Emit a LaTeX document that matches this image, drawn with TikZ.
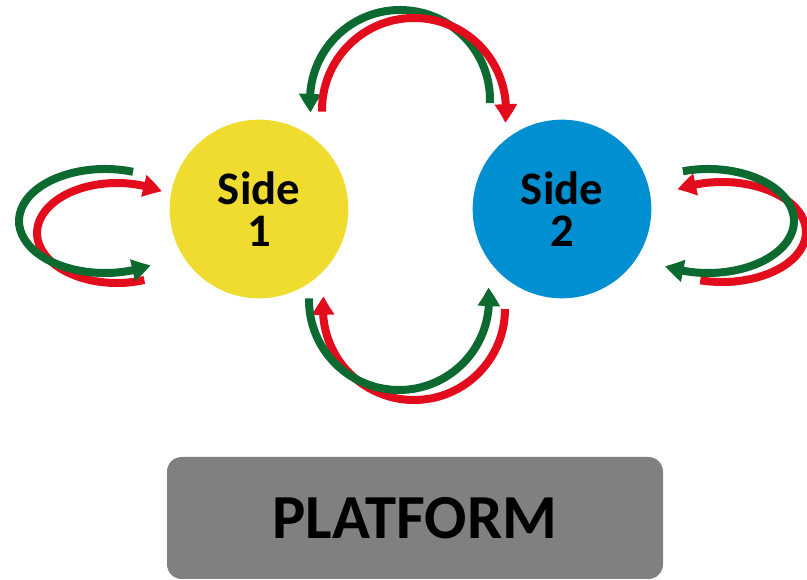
\documentclass[tikz,border=0pt]{standalone}
\usepackage{fontspec}
\setmainfont{Carlito}
\usetikzlibrary{arrows.meta,bending}
\definecolor{arrgreen}{RGB}{12,106,48}
\definecolor{arrred}{RGB}{226,12,28}
\definecolor{sideyellow}{RGB}{240,220,46}
\definecolor{sideblue}{RGB}{0,143,208}
\definecolor{platgray}{RGB}{128,128,128}
\begin{document}
\begin{tikzpicture}[x=0.75pt,y=-0.75pt,
  flow/.style={line width=6pt, -{Triangle[length=14pt,width=16pt,bend]}},
  gflow/.style={flow, draw=arrgreen},
  rflow/.style={flow, draw=arrred},
  side/.style={circle, inner sep=0pt, minimum size=134pt, align=center,
    font=\bfseries\fontsize{35}{32}\selectfont},
  plat/.style={rounded corners=11pt, fill=platgray, minimum width=372pt,
    minimum height=91.5pt, font=\bfseries\fontsize{47}{50}\selectfont}]
\useasboundingbox (0,0) rectangle (807,580);

\node[side, fill=sideyellow] (side1) at (259,209) {Side\\1};
\node[side, fill=sideblue] (side2) at (562,209) {Side\\2};
\node[plat] (platform) at (415,518) {PLATFORM};

% centres of the arcs
\coordinate (ctg) at (400,100);
\coordinate (ctr) at (414,110);
\coordinate (cbg) at (399,300);
\coordinate (cbr) at (414,309);
\coordinate (clg) at (105,221);
\coordinate (clr) at (117,233);
\coordinate (crg) at (708,221);
\coordinate (crr) at (722,232);

% top arcs (red over green)
\draw[gflow] (ctg) ++(2:90) arc[start angle=2, end angle=-188, radius=90];
\draw[rflow] (ctr) ++(179:92) arc[start angle=179, end angle=368, radius=92];

% bottom arcs
\draw[rflow] (cbr) ++(0:91) arc[start angle=0, end angle=188, radius=91];
\draw[gflow] (cbg) ++(181:90) arc[start angle=181, end angle=-8, radius=90];

% left loop
\draw[rflow] (clr) ++(70:80 and 50) arc[start angle=70, end angle=304, x radius=80, y radius=50];
\draw[gflow] (clg) ++(-71:86 and 52) arc[start angle=-71, end angle=-302, x radius=86, y radius=52];

% right loop
\draw[rflow] (crr) ++(105:84 and 50) arc[start angle=105, end angle=-122, x radius=84, y radius=50];
\draw[gflow] (crg) ++(-107:86 and 52) arc[start angle=-107, end angle=120, x radius=86, y radius=52];
\end{tikzpicture}
\end{document}
